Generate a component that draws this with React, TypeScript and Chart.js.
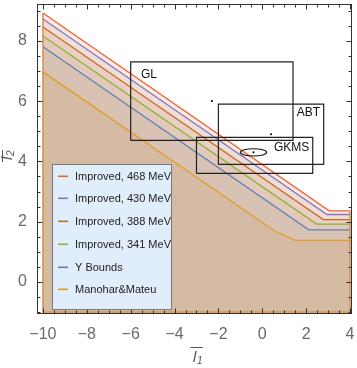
import React, { useEffect, useRef } from "react";
import { Chart, registerables } from "chart.js";
Chart.register(...registerables);

// ---- data ----
const seriesLabels = [
  "Improved, 468 MeV",
  "Improved, 430 MeV",
  "Improved, 388 MeV",
  "Improved, 341 MeV",
  "Y Bounds",
  "Manohar&Mateu",
];
const seriesColors = ["#eb6235", "#8778b3", "#c56e1a", "#8fb032", "#5e81b5", "#e19c24"];
const seriesFills = [
  "rgba(235,98,53,0.13)",
  "rgba(135,120,179,0.12)",
  "rgba(197,110,26,0.12)",
  "rgba(143,176,50,0.11)",
  "rgba(94,129,181,0.11)",
  "rgba(225,156,36,0.13)",
];
const x468 = [-10, 3.05, 4];
const y468 = [8.92, 2.36, 2.36];
const x430 = [-10, 2.95, 4];
const y430 = [8.72, 2.24, 2.24];
const x388 = [-10, 2.78, 4];
const y388 = [8.46, 2.07, 2.07];
const x341 = [-10, 2.48, 4];
const y341 = [8.16, 1.92, 1.92];
const xYB = [-10, 2.12, 4];
const yYB = [7.8, 1.73, 1.73];
const xMM = [-10, 0.55, 1.5, 4];
const yMM = [6.97, 1.7, 1.38, 1.38];
const seriesX = [x468, x430, x388, x341, xYB, xMM];
const seriesY = [y468, y430, y388, y341, yYB, yMM];
const fillBase = -1;

const xTicks = [-10, -8, -6, -4, -2, 0, 2, 4];
const yTicks = [0, 2, 4, 6, 8];

const boxNames = ["GL", "ABT", "GKMS"];
const boxX0 = [-6.0, -2.0, -3.0];
const boxX1 = [1.4, 2.8, 2.3];
const boxY0 = [4.7, 3.9, 3.6];
const boxY1 = [7.3, 5.9, 4.8];
const boxLabelX = [-5.53, 1.57, 0.53];
const boxLabelY = [6.75, 5.51, 4.36];
const centerX = [-2.3, 0.4, -0.4];
const centerY = [6.0, 4.9, 4.3];
const ellipseC = [-0.4, 4.3];
const ellipseR = [0.6, 0.12];

const fmt = (v: number) => (v < 0 ? "\u2212" + Math.abs(v) : String(v));

const decorPlugin = {
  id: "decor",
  afterDraw(chart: any) {
    const { ctx, chartArea: a, scales } = chart;
    const xs = scales.x, ys = scales.y;
    const px = (v: number) => xs.getPixelForValue(v);
    const py = (v: number) => ys.getPixelForValue(v);
    ctx.save();

    // region outline (left, bottom, right edges)
    ctx.strokeStyle = "#d9823a";
    ctx.lineWidth = 1.3;
    ctx.beginPath();
    ctx.moveTo(px(x468[0]), py(y468[0]));
    ctx.lineTo(px(x468[0]), py(fillBase));
    ctx.lineTo(px(x468[x468.length - 1]), py(fillBase));
    ctx.lineTo(px(x468[x468.length - 1]), py(y468[y468.length - 1]));
    ctx.stroke();

    // ellipse
    ctx.strokeStyle = "#111";
    ctx.lineWidth = 1.1;
    ctx.beginPath();
    ctx.ellipse(
      px(ellipseC[0]),
      py(ellipseC[1]),
      Math.abs(px(ellipseC[0] + ellipseR[0]) - px(ellipseC[0])),
      Math.abs(py(ellipseC[1] + ellipseR[1]) - py(ellipseC[1])),
      0, 0, Math.PI * 2
    );
    ctx.stroke();

    // box labels
    ctx.fillStyle = "#111";
    ctx.font = "12px 'Liberation Sans', Arial, sans-serif";
    ctx.textAlign = "left";
    ctx.textBaseline = "alphabetic";
    boxNames.forEach((n, i) => ctx.fillText(n, px(boxLabelX[i]), py(boxLabelY[i])));

    // frame
    ctx.strokeStyle = "#333";
    ctx.lineWidth = 1;
    const L = Math.round(a.left) + 0.5, R = Math.round(a.right) - 0.5;
    const T = Math.round(a.top) + 0.5, B = Math.round(a.bottom) - 0.5;
    ctx.strokeRect(L, T, R - L, B - T);
    ctx.beginPath();
    const minorStep = 0.5;
    for (let v = Math.ceil(xs.min / minorStep) * minorStep; v <= xs.max + 1e-9; v += minorStep) {
      const major = xTicks.some((t) => Math.abs(t - v) < 1e-6);
      const len = major ? 5 : 3;
      const x = Math.round(px(v)) + 0.5;
      ctx.moveTo(x, B); ctx.lineTo(x, B - len);
      ctx.moveTo(x, T); ctx.lineTo(x, T + len);
    }
    for (let v = Math.ceil(ys.min / minorStep) * minorStep; v <= ys.max + 1e-9; v += minorStep) {
      const major = yTicks.some((t) => Math.abs(t - v) < 1e-6);
      const len = major ? 5 : 3;
      const y = Math.round(py(v)) + 0.5;
      ctx.moveTo(L, y); ctx.lineTo(L + len, y);
      ctx.moveTo(R, y); ctx.lineTo(R - len, y);
    }
    ctx.stroke();

    // legend
    const lx = 52.5, ly = 164.5, lw = 119, lh = 145;
    ctx.fillStyle = "#e0eefb";
    ctx.fillRect(lx, ly, lw, lh);
    ctx.strokeStyle = "#7a7a7a";
    ctx.strokeRect(lx, ly, lw, lh);
    ctx.font = "11px 'Liberation Sans', Arial, sans-serif";
    seriesLabels.forEach((lab, i) => {
      const y = Math.round(175.7 + i * 22.7);
      ctx.fillStyle = seriesColors[i];
      ctx.fillRect(58, y - 0.5, 10, 1.6);
      ctx.fillStyle = "#222";
      ctx.textBaseline = "middle";
      ctx.fillText(lab, 75, y + 1);
    });

    // axis titles
    ctx.fillStyle = "#555";
    ctx.strokeStyle = "#555";
    ctx.lineWidth = 1;
    ctx.textBaseline = "alphabetic";
    // x title
    ctx.font = "italic 15px 'Liberation Sans', Arial, sans-serif";
    ctx.fillText("l", 193, 362);
    ctx.font = "italic 10px 'Liberation Sans', Arial, sans-serif";
    ctx.fillText("1", 197, 364);
    ctx.beginPath();
    ctx.moveTo(190.5, 347.5);
    ctx.lineTo(203, 347.5);
    ctx.stroke();
    // y title
    ctx.save();
    ctx.translate(12, 162);
    ctx.rotate(-Math.PI / 2);
    ctx.font = "italic 15px 'Liberation Sans', Arial, sans-serif";
    ctx.fillText("l", 2, 0);
    ctx.font = "italic 10px 'Liberation Sans', Arial, sans-serif";
    ctx.fillText("2", 6, 2);
    ctx.beginPath();
    ctx.moveTo(0, -9.5);
    ctx.lineTo(12, -9.5);
    ctx.stroke();
    ctx.restore();

    ctx.restore();
  },
};

const zeroPad = (s: any) => {
  s.paddingTop = 0;
  s.paddingBottom = 0;
  s.paddingLeft = 0;
  s.paddingRight = 0;
};

export default function App() {
  const ref = useRef<HTMLCanvasElement | null>(null);
  useEffect(() => {
    if (!ref.current) return;
    const lineSets = seriesLabels.map((lab, i) => ({
      label: lab,
      data: seriesX[i].map((x, j) => ({ x, y: seriesY[i][j] })),
      showLine: true,
      borderColor: seriesColors[i],
      backgroundColor: seriesFills[i],
      borderWidth: 1.3,
      pointRadius: 0,
      fill: { value: fillBase },
      order: 1,
    }));
    const boxSets = boxNames.map((n, i) => ({
      label: n,
      data: [
        { x: boxX0[i], y: boxY0[i] },
        { x: boxX1[i], y: boxY0[i] },
        { x: boxX1[i], y: boxY1[i] },
        { x: boxX0[i], y: boxY1[i] },
        { x: boxX0[i], y: boxY0[i] },
      ],
      showLine: true,
      borderColor: "#222",
      borderWidth: 1.2,
      pointRadius: 0,
      fill: false,
      order: 0,
    }));
    const dotSet = {
      label: "centers",
      data: centerX.map((x, i) => ({ x, y: centerY[i] })),
      showLine: false,
      pointRadius: 1.1,
      pointBackgroundColor: "#111",
      pointBorderWidth: 0,
      order: 0,
    };
    const chart = new Chart(ref.current, {
      type: "scatter",
      data: { datasets: [...lineSets, ...boxSets, dotSet] as any },
      options: {
        animation: false,
        responsive: false,
        devicePixelRatio: 1,
        layout: { padding: { top: 1, right: 5, left: 0, bottom: 0 } },
        plugins: {
          legend: { display: false },
          tooltip: { enabled: false },
          filler: { drawTime: "beforeDatasetsDraw" },
        } as any,
        scales: {
          x: {
            type: "linear",
            min: -10.27,
            max: 4.09,
            grid: { display: false },
            border: { display: false },
            afterBuildTicks: (s: any) => {
              s.ticks = xTicks.map((v) => ({ value: v }));
            },
            afterFit: (s: any) => {
              s.height = 54;
              zeroPad(s);
            },
            ticks: {
              color: "#6a6a6a",
              font: { family: "'Liberation Sans', Arial, sans-serif", size: 16 },
              padding: 3,
              maxRotation: 0,
              autoSkip: false,
              callback: (v: any) => fmt(Number(v)),
            },
          },
          y: {
            type: "linear",
            min: -1.06,
            max: 9.22,
            grid: { display: false },
            border: { display: false },
            afterBuildTicks: (s: any) => {
              s.ticks = yTicks.map((v) => ({ value: v }));
            },
            afterFit: (s: any) => {
              s.width = 37;
              zeroPad(s);
            },
            ticks: {
              color: "#6a6a6a",
              font: { family: "'Liberation Sans', Arial, sans-serif", size: 16 },
              padding: 2,
              autoSkip: false,
              callback: (v: any) => fmt(Number(v)),
            },
          },
        },
      },
      plugins: [decorPlugin],
    });
    return () => chart.destroy();
  }, []);
  return (
    <div style={{ position: "fixed", left: 0, top: 0, width: 357, height: 368, background: "#fff" }}>
      <canvas ref={ref} width={357} height={368} />
    </div>
  );
}
